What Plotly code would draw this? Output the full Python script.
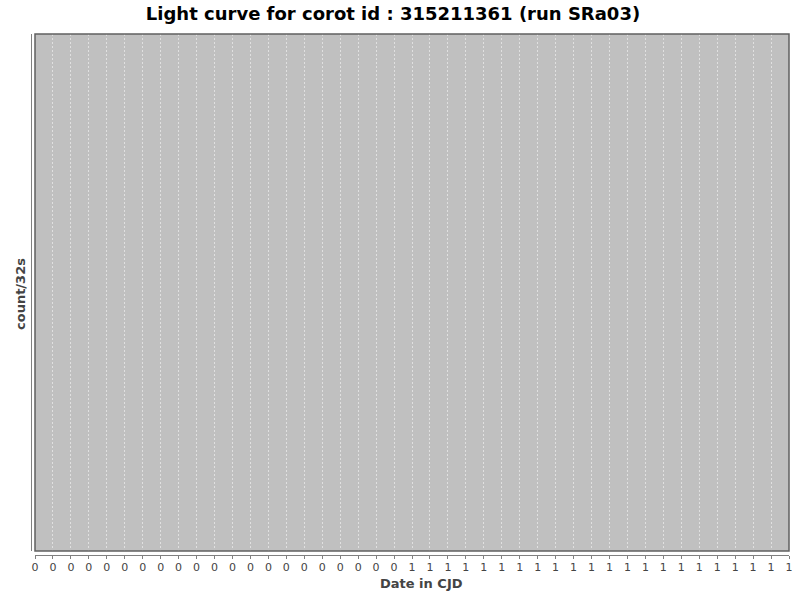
import plotly.graph_objects as go

# Chart text
title_text = "Light curve for corot id : 315211361 (run SRa03)"
x_title = "Date in CJD"
y_title = "count/32s"

# Empty light curve (no points drawn in the reference)
cjd = []
counts = []

# X ticks: 0 to 1.05 every 0.025, shown rounded to integers
tick_vals = [i * 0.025 for i in range(43)]
tick_text = ["0"] * 21 + ["1"] * 22

W, H = 800, 600
ml, mr, mt, mb = 31, 11, 34, 45
gap = 4
pw = W - ml - mr
ph = H - mt - mb

fig = go.Figure()
fig.add_trace(go.Scatter(x=cjd, y=counts, mode="markers",
                         marker=dict(color="red", size=3), showlegend=False))

fig.update_layout(
    width=W, height=H,
    margin=dict(l=ml, r=mr, t=mt, b=mb, autoexpand=False),
    paper_bgcolor="white",
    plot_bgcolor="#c0c0c0",
    font=dict(family="DejaVu Sans", color="#444444", size=12),
    title=dict(text="<b>" + title_text + "</b>", x=393 / W, xanchor="center",
               y=1 - 14 / H, yanchor="middle",
               font=dict(family="DejaVu Sans", size=18, color="black")),
    xaxis=dict(
        domain=[gap / pw, 1], anchor="free", position=0,
        range=[0, 1.05], tickvals=tick_vals, ticktext=tick_text,
        showline=True, linecolor="#808080", linewidth=1,
        ticks="outside", ticklen=3, tickcolor="#808080",
        tickfont=dict(size=11, color="#444444"), ticklabelstandoff=-1,
        showgrid=True, gridcolor="#e0e0e0", gridwidth=1, griddash="2px,2px",
        zeroline=False, automargin=False,
    ),
    yaxis=dict(
        domain=[gap / ph, 1], anchor="free", position=0,
        range=[0, 1], showticklabels=False, ticks="",
        showline=True, linecolor="#808080", linewidth=1,
        showgrid=False, zeroline=False, automargin=False,
    ),
)

# Axis titles placed as annotations
fig.add_annotation(text="<b>" + x_title + "</b>", xref="paper", yref="paper",
                   x=412 / W, y=-(583 - mt - ph) / ph, xanchor="center", yanchor="middle",
                   showarrow=False, font=dict(size=13, color="#444444"))
fig.add_annotation(text="<b>" + y_title + "</b>", xref="paper", yref="paper",
                   x=(20 - ml) / pw, y=(H - mb - 294) / ph, xanchor="center", yanchor="middle",
                   textangle=-90, showarrow=False, font=dict(size=13, color="#444444"))

# Plot box border
fig.add_shape(type="rect", xref="x domain", yref="y domain",
              x0=0, x1=1, y0=0, y1=1,
              line=dict(color="#606060", width=1.5), layer="above")

# Remove the default page margin so the figure sits at the window corner
fig.write_html("out.html", config={"displayModeBar": False},
               post_script="document.body.style.margin='0';")
